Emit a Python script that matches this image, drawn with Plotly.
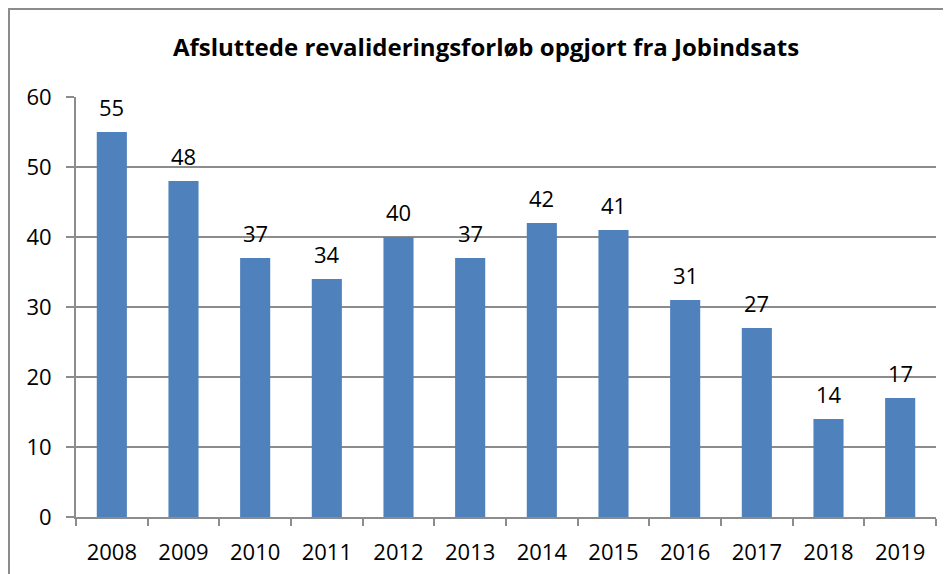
import plotly.graph_objects as go

# data
years = ["2008", "2009", "2010", "2011", "2012", "2013",
         "2014", "2015", "2016", "2017", "2018", "2019"]
forloeb = [55, 48, 37, 34, 40, 37, 42, 41, 31, 27, 14, 17]

title_text = "Afsluttede revalideringsforløb opgjort fra Jobindsats"

font_family = "'Open Sans', sans-serif"
grid_col = "#8c8c8c"

# page body has an 8px margin, so the plot area is placed 8px up/left
L, T, W, H = 68, 89, 860, 420

fig = go.Figure()
fig.add_trace(go.Bar(
    x=years, y=forloeb,
    marker=dict(color="#4F81BD", line=dict(width=0)),
    hoverinfo="x+y",
))

# value labels above the bars (x given as category index, since "2008" would be read as an index)
for i, v in enumerate(forloeb):
    fig.add_annotation(x=i, y=v, text=str(v), showarrow=False,
                       yanchor="bottom", yshift=8,
                       font=dict(size=22, color="#000000", family=font_family))

fig.update_layout(
    width=951, height=574,
    margin=dict(l=L, r=951 - L - W, t=T, b=574 - T - H),
    paper_bgcolor="white", plot_bgcolor="white",
    bargap=0.58,
    showlegend=False,
    font=dict(family=font_family, size=22, color="#000000"),
    title=dict(text="<b>" + title_text + "</b>", x=478 / 951, xanchor="center",
               y=1 - 40 / 574, yanchor="middle",
               font=dict(size=24, family=font_family, color="#000000")),
)

fig.update_xaxes(
    type="category", showgrid=False,
    showline=True, linecolor=grid_col, linewidth=2,
    ticks="outside", tickson="boundaries", ticklen=7, tickcolor=grid_col, tickwidth=2,
    tickfont=dict(size=22), tickangle=0, ticklabelstandoff=15, fixedrange=True,
)
fig.update_yaxes(
    range=[0, 60], dtick=10, showgrid=True, gridcolor=grid_col, gridwidth=1.5,
    showline=True, linecolor=grid_col, linewidth=2, zeroline=False,
    ticks="outside", ticklen=8, tickcolor=grid_col, tickwidth=2,
    tickfont=dict(size=22), ticklabelstandoff=10,
)

# outer chart border (runs past the right/bottom edge like the source)
fig.add_shape(type="rect", xref="paper", yref="paper",
              x0=(1 - L) / W, x1=1.2, y0=-0.3, y1=(T + H - 1) / H,
              line=dict(color="#8c8c8c", width=2), layer="below")

fig.write_html("out.html")
